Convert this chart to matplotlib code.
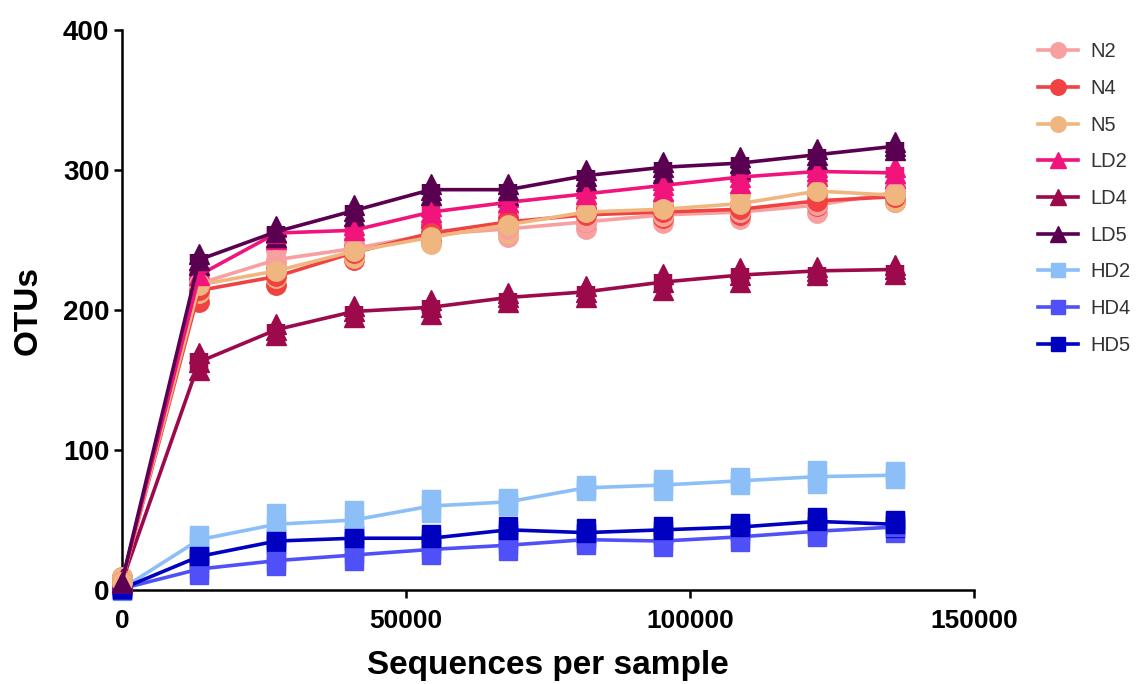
import matplotlib
matplotlib.use('Agg')
from matplotlib import pyplot as plt

# rarefaction depths (sequences per sample)
depth = [0, 13600, 27200, 40800, 54400, 68000, 81600, 95200, 108800, 122400, 136000]

names = ['N2', 'N4', 'N5', 'LD2', 'LD4', 'LD5', 'HD2', 'HD4', 'HD5']
colors = ['#F8A0A0', '#F04242', '#F0B680', '#F0147C', '#9C0A4C', '#5A0050', '#8CBEF8', '#5050F8', '#0000C0']
markers = ['o', 'o', 'o', '^', '^', '^', 's', 's', 's']

# mean OTUs
N2 = [6, 219, 236, 244, 254, 258, 263, 268, 270, 275, 284]
N4 = [6, 214, 224, 241, 255, 263, 268, 270, 272, 278, 281]
N5 = [6, 218, 228, 242, 252, 261, 270, 272, 276, 285, 282]
LD2 = [6, 225, 255, 257, 270, 277, 283, 289, 295, 299, 298]
LD4 = [6, 163, 186, 199, 202, 209, 213, 220, 225, 228, 229]
LD5 = [6, 236, 256, 271, 286, 286, 296, 302, 305, 311, 317]
HD2 = [1, 36, 47, 50, 60, 63, 73, 75, 78, 81, 82]
HD4 = [1, 15, 21, 25, 29, 32, 36, 35, 38, 42, 45]
HD5 = [1, 24, 35, 37, 37, 43, 41, 43, 45, 49, 47]

# standard deviations
N2_sd = [3, 8, 7, 6, 6, 6, 5, 6, 5, 6, 5]
N4_sd = [3, 8, 6, 5, 5, 5, 5, 4, 4, 4, 4]
N5_sd = [3, 6, 5, 5, 5, 6, 6, 5, 6, 5, 5]
LD2_sd = [2, 4, 4, 4, 4, 4, 4, 4, 4, 3, 4]
LD4_sd = [2, 6, 4, 4, 5, 3, 4, 6, 5, 3, 3]
LD5_sd = [2, 4, 4, 4, 4, 4, 4, 4, 4, 4, 3]
HD2_sd = [2, 3, 8, 7, 5, 3, 2, 4, 3, 5, 3]
HD4_sd = [1, 4, 4, 4, 4, 4, 4, 4, 4, 4, 4]
HD5_sd = [1, 2, 2, 2, 3, 3, 3, 3, 3, 3, 3]

means = [N2, N4, N5, LD2, LD4, LD5, HD2, HD4, HD5]
sds = [N2_sd, N4_sd, N5_sd, LD2_sd, LD4_sd, LD5_sd, HD2_sd, HD4_sd, HD5_sd]

fig = plt.figure(figsize=(11.43, 6.84), dpi=100)
ax = fig.add_axes([0.1067, 0.1374, 0.7455, 0.8186])

# draw from bottom group to top so pinks sit on top like the original
order = [6, 7, 8, 4, 0, 1, 2, 3, 5]
for i in order:
    m, s, c, mk = means[i], sds[i], colors[i], markers[i]
    ms = 14 if mk != 's' else 12.5
    lo = [a - b for a, b in zip(m, s)]
    hi = [a + b for a, b in zip(m, s)]
    ax.vlines(depth, lo, hi, colors=c, linewidth=ms * 0.95, zorder=3, clip_on=False)
    ax.plot(depth, lo, linestyle='none', marker=mk, ms=ms, color=c, mec=c, zorder=3, clip_on=False)
    ax.plot(depth, hi, linestyle='none', marker=mk, ms=ms, color=c, mec=c, zorder=3, clip_on=False)
    ax.plot(depth, m, color=c, lw=2.6, marker=mk, ms=ms, mec=c, zorder=4, clip_on=False,
            label=names[i])

ax.set_xlim(0, 150000)
ax.set_ylim(0, 400)
ax.set_xticks([0, 50000, 100000, 150000])
ax.set_yticks([0, 100, 200, 300, 400])
for sp in ['top', 'right']:
    ax.spines[sp].set_visible(False)
for sp in ['left', 'bottom']:
    ax.spines[sp].set_linewidth(1.8)
ax.tick_params(width=1.8, length=6, pad=3)
ax.tick_params(axis='x', pad=8)
for t in ax.get_yticklabels():
    t.set_fontweight('bold')
    t.set_family(['Liberation Sans', 'DejaVu Sans'])
    t.set_fontsize(20)
for t in ax.get_xticklabels():
    t.set_fontweight('bold')
    t.set_family(['Liberation Sans Narrow', 'Liberation Sans', 'DejaVu Sans'])
    t.set_fontsize(19)

ax.set_xlabel('Sequences per sample', fontsize=24, fontweight='bold',
              family=['Liberation Sans', 'DejaVu Sans'], labelpad=12)
ax.set_ylabel('OTUs', fontsize=24, fontweight='bold',
              family=['Liberation Sans', 'DejaVu Sans'], labelpad=14)

handles, labels = ax.get_legend_handles_labels()
lookup = dict(zip(labels, handles))
leg = fig.legend([lookup[n] for n in names], names, loc='upper left',
                 bbox_to_anchor=(1020 / 1143, 1 - 24 / 684), frameon=False,
                 prop={'family': ['Liberation Sans', 'DejaVu Sans'], 'size': 14.5},
                 labelspacing=0.88, handlelength=2.0, handletextpad=0.6, markerscale=0.8)
for t in leg.get_texts():
    t.set_color('#333333')

fig.savefig('out.png', dpi=100)
